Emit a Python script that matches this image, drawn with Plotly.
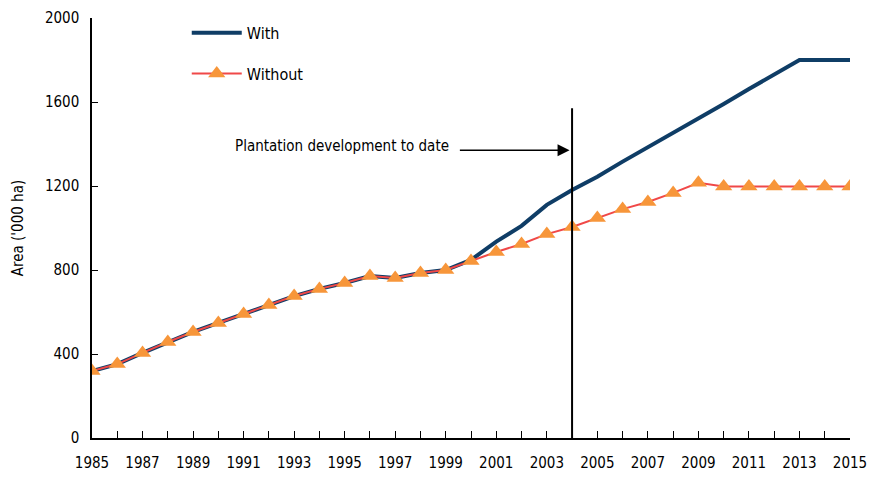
import plotly.graph_objects as go

years = list(range(1985, 2016))
with_vals = [319, 352, 405, 457, 505, 548, 590, 633, 676, 710, 738, 771, 762, 786, 800, 848,
             935, 1010, 1110, 1181, 1244, 1316, 1384, 1454, 1522, 1590, 1662, 1729, 1800, 1800, 1800]
without_vals = [319, 352, 405, 457, 505, 548, 590, 633, 676, 710, 738, 771, 762, 786, 800, 843,
                886, 924, 971, 1005, 1048, 1090, 1124, 1167, 1215, 1198, 1198, 1198, 1198, 1198, 1198]
x_tick_years = list(range(1985, 2016, 2))
y_ticks = [0, 400, 800, 1200, 1600, 2000]
milestone_year = 2004

FONT = "Liberation Sans Narrow, DejaVu Sans Condensed, Arial Narrow, sans-serif"

fig = go.Figure()
fig.add_trace(go.Scatter(x=years, y=with_vals, name="With", mode="lines",
                         line=dict(color="#0f3d66", width=4), legendgroup="a"))
fig.add_trace(go.Scatter(x=years, y=without_vals, name="Without", mode="lines+markers",
                         line=dict(color="#f04848", width=2),
                         marker=dict(symbol="triangle-up", size=15, color="#f7963a",
                                     line=dict(width=0)),
                         legendgroup="b"))

fig.add_shape(type="line", x0=milestone_year, x1=milestone_year, y0=0, y1=1570,
              xref="x", yref="y", line=dict(color="black", width=2))
fig.add_annotation(x=2003.9, y=1370, ax=1999.5, ay=1370, axref="x", ayref="y",
                   xref="x", yref="y", text="", showarrow=True, arrowhead=2,
                   arrowsize=1.6, arrowwidth=1.5, arrowcolor="black")
fig.add_annotation(x=1994.9, y=1390, xref="x", yref="y", text="Plantation development to date",
                   showarrow=False, font=dict(size=15, color="black", family=FONT))

fig.update_layout(
    width=869, height=471,
    margin=dict(l=84, r=27, t=10, b=41, autoexpand=False),
    paper_bgcolor="white", plot_bgcolor="white",
    font=dict(family=FONT, size=15, color="black"),
    showlegend=True,
    legend=dict(x=0.125, y=1.005, xanchor="left", yanchor="top",
                tracegroupgap=17, traceorder="grouped", itemwidth=50,
                font=dict(size=16, family=FONT), bgcolor="rgba(0,0,0,0)"),
    xaxis=dict(range=[1985, 2015], tickvals=x_tick_years, ticks="inside", ticklen=7,
               tickcolor="black", showline=True, linecolor="black", linewidth=1.5,
               showgrid=False, zeroline=False, automargin=False, ticklabelstandoff=10,
               minor=dict(dtick=1, ticks="inside", ticklen=7, tickcolor="black", showgrid=False),
               tickfont=dict(size=15, family=FONT)),
    yaxis=dict(range=[0, 2000], tickvals=y_ticks, ticks="inside", ticklen=6,
               tickcolor="black", showline=True, linecolor="black", linewidth=1.5,
               showgrid=False, zeroline=False, automargin=False, ticklabelstandoff=8,
               title=dict(text="Area ('000 ha)", standoff=18, font=dict(size=15, family=FONT)),
               tickfont=dict(size=15, family=FONT)),
)

fig.write_html("out.html")
